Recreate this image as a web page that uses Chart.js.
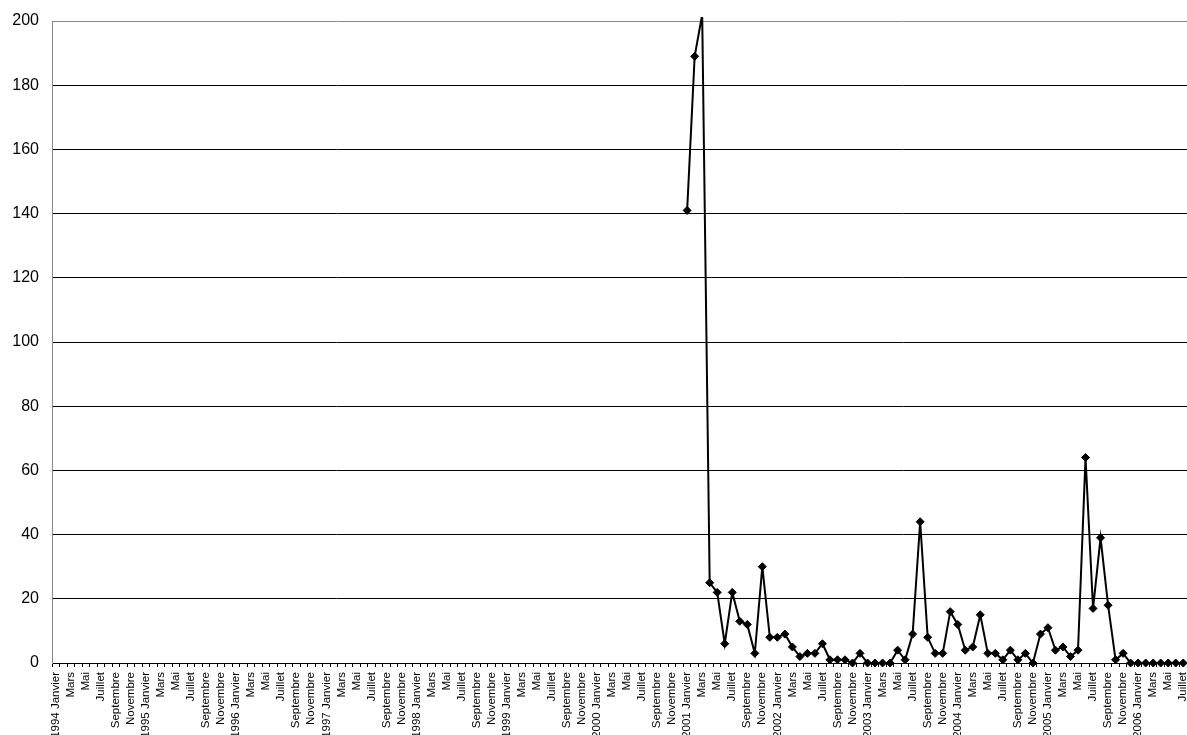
<!DOCTYPE html>
<html>
<head>
<meta charset="utf-8">
<script src="https://cdn.jsdelivr.net/npm/chart.js@4/dist/chart.umd.min.js"></script>
<style>
  html, body { margin: 0; padding: 0; background: #fff; }
  #wrap { width: 1187px; height: 735px; position: relative; }
</style>
</head>
<body>
<div id="wrap"><canvas id="chart" width="1187" height="735"></canvas></div>
<script>
// ── Data ──────────────────────────────────────────────
const years      = [1994,1995,1996,1997,1998,1999,2000,2001,2002,2003,2004,2005,2006];
const monthNames = ['Janvier','Février','Mars','Avril','Mai','Juin','Juillet','Août','Septembre','Octobre','Novembre','Décembre'];
const lastMonth2006 = 7;          // series ends in Juillet 2006
const firstDataIndex = 84;        // 2001 Janvier, nothing recorded before

// values from 2001 Janvier to 2006 Juillet
const values2001 = [141, 189, 202, 25, 22, 6, 22, 13, 12, 3, 30, 8];
const values2002 = [8, 9, 5, 2, 3, 3, 6, 1, 1, 1, 0, 3];
const values2003 = [0, 0, 0, 0, 4, 1, 9, 44, 8, 3, 3, 16];
const values2004 = [12, 4, 5, 15, 3, 3, 1, 4, 1, 3, 0, 9];
const values2005 = [11, 4, 5, 2, 4, 64, 17, 39, 18, 1, 3, 0];
const values2006 = [0, 0, 0, 0, 0, 0, 0];

const yMin = 0, yMax = 200, yStep = 20;

// ── Build categories / series ─────────────────────────
const labels = [];
years.forEach(y => {
  const n = y === 2006 ? lastMonth2006 : 12;
  for (let m = 0; m < n; m++) labels.push(m === 0 ? y + ' ' + monthNames[m] : monthNames[m]);
});

const recorded = [].concat(values2001, values2002, values2003, values2004, values2005, values2006);
const series   = labels.map((_, i) => i < firstDataIndex ? null : recorded[i - firstDataIndex]);

Chart.defaults.font.family = '"Liberation Sans", Arial, sans-serif';
Chart.defaults.color = '#000';

new Chart(document.getElementById('chart'), {
  type: 'line',
  data: {
    labels: labels,
    datasets: [{
      data: series,
      borderColor: '#000',
      backgroundColor: '#000',
      borderWidth: 2,
      tension: 0,
      pointStyle: 'rectRot',
      pointRadius: ctx => ctx.raw > yMax ? 0 : 4,
      pointBorderWidth: 1,
      pointBorderColor: '#000',
      pointBackgroundColor: '#000',
      clip: { left: 10, top: 4, right: 10, bottom: 10 }
    }]
  },
  options: {
    responsive: false,
    animation: false,
    layout: { autoPadding: false, padding: { top: 21, right: 0, left: 0, bottom: 0 } },
    plugins: { legend: { display: false }, tooltip: { enabled: false } },
    scales: {
      x: {
        offset: true,
        grid: { offset: true, drawOnChartArea: false, drawTicks: true, tickLength: 4, color: '#000' },
        border: { color: '#000', width: 1 },
        ticks: {
          autoSkip: false, maxRotation: 90, minRotation: 90, padding: 5,
          font: { size: 11.5 }, color: '#000',
          callback: (v, i) => i % 2 === 0 ? labels[i] : ''
        },
        afterFit: s => { s.height = 72; s.paddingLeft = 0; s.paddingRight = 0; }
      },
      y: {
        min: yMin, max: yMax,
        grid: { drawTicks: false, tickLength: 0, color: c => c.tick.value === yMax ? '#888' : '#000', lineWidth: 1 },
        border: { color: '#888', width: 1 },
        ticks: { stepSize: yStep, padding: 13, font: { size: 16 }, color: '#000' },
        afterFit: s => { s.width = 52; s.paddingTop = 0; s.paddingBottom = 0; }
      }
    }
  }
});
</script>
</body>
</html>
